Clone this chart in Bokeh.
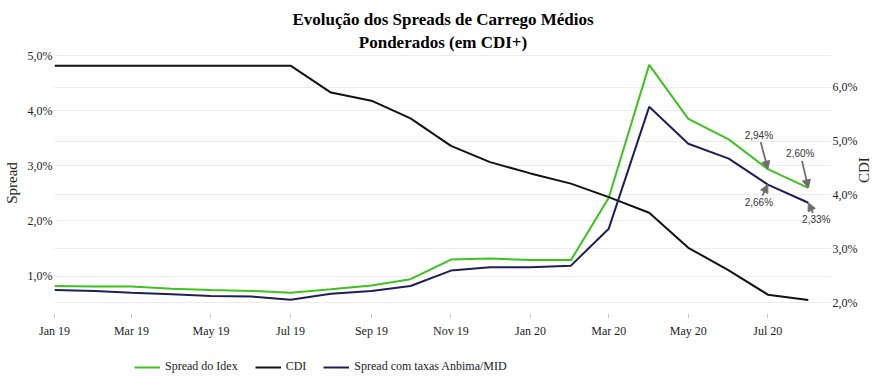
import math
import pandas as pd
from bokeh.plotting import figure
from bokeh.layouts import column
from bokeh.models import (Range1d, LinearAxis, FixedTicker, Grid, Legend, LegendItem,
                          Title, Arrow, NormalHead, DatetimeTickFormatter, MonthsTicker,
                          ColumnDataSource)
from bokeh.core.properties import value
from bokeh.embed import file_html
from bokeh.resources import INLINE

# ---------------- data ----------------
months = ["2019-01-01", "2019-02-01", "2019-03-01", "2019-04-01", "2019-05-01",
          "2019-06-01", "2019-07-01", "2019-08-01", "2019-09-01", "2019-10-01",
          "2019-11-01", "2019-12-01", "2020-01-01", "2020-02-01", "2020-03-01",
          "2020-04-01", "2020-05-01", "2020-06-01", "2020-07-01", "2020-08-01"]
spread_idex = [0.82, 0.81, 0.81, 0.77, 0.75, 0.73, 0.70, 0.76, 0.83, 0.945,
               1.30, 1.32, 1.29, 1.29, 2.42, 4.83, 3.85, 3.48, 2.94, 2.60]
cdi = [6.40, 6.40, 6.40, 6.40, 6.40, 6.40, 6.40, 5.90, 5.75, 5.42,
       4.91, 4.61, 4.40, 4.21, 3.96, 3.67, 3.02, 2.60, 2.15, 2.05]
spread_anbima = [0.75, 0.73, 0.70, 0.67, 0.64, 0.63, 0.57, 0.68, 0.73, 0.82,
                 1.10, 1.16, 1.16, 1.19, 1.86, 4.07, 3.40, 3.13, 2.66, 2.33]

series_names = ["Spread do Idex", "CDI", "Spread com taxas Anbima/MID"]

left_ticks = [1, 2, 3, 4, 5]
left_tick_labels = ["1,0%", "2,0%", "3,0%", "4,0%", "5,0%"]
right_ticks = [2, 3, 4, 5, 6]
right_tick_labels = ["2,0%", "3,0%", "4,0%", "5,0%", "6,0%"]

# annotations: series, month index, text, text offset in px (dx, dy; dy down)
ann_series = ["idex", "idex", "anbima", "anbima"]
ann_index = [18, 19, 18, 19]
ann_text = ["2,94%", "2,60%", "2,66%", "2,33%"]
ann_dx = [-9, -8, -9, 8]
ann_dy = [-34, -34, 18, 17]

# ---------------- style ----------------
GREEN = "#3cc31e"
NAVY = "#1e1e5c"
BLACK = "#111111"
GRID = "#ececec"
ARROW = "#6e6e6e"
SERIF = "Liberation Serif"
SANS = "Liberation Sans"
COLORS = [GREEN, BLACK, NAVY]

FRAME_W, FRAME_H = 780, 261
x0 = pd.Timestamp("2019-01-01")
x1 = x0 + pd.Timedelta(days=595.8)
y_left = (0.322, 5.055)
y_right = (1.80, 6.644)

dates = pd.to_datetime(months)
src = ColumnDataSource(dict(date=dates, idex=spread_idex, cdi=cdi, anbima=spread_anbima))

p = figure(width=883, height=340, x_axis_type="datetime",
           x_range=Range1d(x0, x1), y_range=Range1d(*y_left),
           output_backend="svg", toolbar_location=None, title_location=None,
           min_border_left=52, min_border_right=51, min_border_top=52,
           min_border_bottom=27)
p.frame_align = False
p.outline_line_color = None
p.background_fill_color = "white"
p.border_fill_color = "white"
p.extra_y_ranges = {"cdi": Range1d(*y_right)}

# titles (line 2 added first -> closest to plot)
for txt in ["Ponderados (em CDI+)", "Evolução dos Spreads de Carrego Médios"]:
    p.add_layout(Title(text=txt, align="center", text_font=SERIF, text_font_size="17px",
                       text_font_style="bold", text_color="#000000", standoff=2), "above")

# x axis
xa = p.xaxis[0]
xa.ticker = MonthsTicker(months=[0, 2, 4, 6, 8, 10])
xa.formatter = DatetimeTickFormatter(months="%b %y", years="%b %y", days="%b %y")
xa.axis_line_color = None
xa.major_tick_line_color = "#cccccc"
xa.major_tick_out = 5
xa.major_tick_in = 0
xa.minor_tick_line_color = None
xa.major_label_standoff = 5
xa.major_label_text_font = SERIF
xa.major_label_text_font_size = "12px"
xa.major_label_text_color = "#222222"

# left axis
ya = p.yaxis[0]
ya.ticker = FixedTicker(ticks=left_ticks)
ya.major_label_overrides = dict(zip(left_ticks, left_tick_labels))
ya.axis_label = "Spread"
ya.axis_line_color = None
ya.major_tick_line_color = None
ya.major_tick_out = 0
ya.major_tick_in = 0
ya.minor_tick_line_color = None
ya.minor_tick_out = 0
ya.major_label_standoff = 2
ya.axis_label_standoff = 5
ya.major_label_text_font = SERIF
ya.major_label_text_font_size = "12px"
ya.major_label_text_color = "#222222"
ya.axis_label_text_font = SERIF
ya.axis_label_text_font_size = "15px"
ya.axis_label_text_font_style = "normal"
ya.axis_label_text_color = "#222222"

# right axis
ra = LinearAxis(y_range_name="cdi", ticker=FixedTicker(ticks=right_ticks),
                axis_label="CDI", axis_label_orientation=math.pi / 2)
ra.major_label_overrides = dict(zip(right_ticks, right_tick_labels))
ra.axis_line_color = None
ra.major_tick_line_color = None
ra.major_tick_out = 0
ra.major_tick_in = 0
ra.minor_tick_line_color = None
ra.minor_tick_out = 0
ra.major_label_standoff = 1
ra.axis_label_standoff = 4
ra.major_label_text_font = SERIF
ra.major_label_text_font_size = "12px"
ra.major_label_text_color = "#222222"
ra.axis_label_text_font = SERIF
ra.axis_label_text_font_size = "15px"
ra.axis_label_text_font_style = "normal"
ra.axis_label_text_color = "#222222"
p.add_layout(ra, "right")

# grids
p.xgrid.visible = False
p.ygrid.ticker = ya.ticker
p.ygrid.grid_line_color = GRID
p.add_layout(Grid(dimension=1, ticker=ra.ticker, y_range_name="cdi",
                  grid_line_color=GRID))

# lines
r_idex = p.line("date", "idex", source=src, line_color=GREEN, line_width=2)
r_cdi = p.line("date", "cdi", source=src, line_color=BLACK, line_width=2, y_range_name="cdi")
r_anb = p.line("date", "anbima", source=src, line_color=NAVY, line_width=2)

# annotations
ms_per_px = (x1 - x0).total_seconds() * 1000.0 / FRAME_W
val_per_px = (y_left[1] - y_left[0]) / FRAME_H
series_map = {"idex": spread_idex, "anbima": spread_anbima}
ax, ay = [], []
for s, i, dx, dy in zip(ann_series, ann_index, ann_dx, ann_dy):
    xv = dates[i].value / 1e6
    yv = series_map[s][i]
    ax.append(dates[i])
    ay.append(yv)
    f = (abs(dy) - 7) / abs(dy)
    tx, ty = dx * f, dy * f
    p.add_layout(Arrow(end=NormalHead(size=8, fill_color=ARROW, line_color=ARROW, line_width=1),
                       x_start=xv + tx * ms_per_px, y_start=yv - ty * val_per_px,
                       x_end=xv, y_end=yv, line_color=ARROW, line_width=1.8))
ann_src = ColumnDataSource(dict(x=ax, y=ay, text=ann_text, xo=ann_dx, yo=ann_dy))
p.text("x", "y", text="text", x_offset="xo", y_offset="yo", source=ann_src,
       text_font=value(SANS), text_font_size="10px", text_color="#333333",
       text_align="center", text_baseline="middle")

# ---------------- legend strip ----------------
lf = figure(width=883, height=47, x_range=Range1d(0, 1), y_range=Range1d(0, 1),
            output_backend="svg", toolbar_location=None, title_location=None,
            x_axis_location=None, y_axis_location=None, min_border=0)
lf.frame_align = False
lf.outline_line_color = None
lf.grid.visible = False
# off-screen stand-in renderers carrying the legend line styles
leg_r = [lf.line([-2, -1], [-2, -2], line_color=c, line_width=2) for c in COLORS]
legend = Legend(items=[LegendItem(label=n, renderers=[r]) for n, r in zip(series_names, leg_r)],
                location=(134, 13), orientation="horizontal", padding=0, margin=0,
                spacing=17, border_line_color=None, background_fill_alpha=0,
                glyph_width=26, glyph_height=14, label_standoff=5,
                label_text_font=SERIF, label_text_font_size="12px",
                label_text_color="#222222", label_height=14)
lf.add_layout(legend, "center")

open("out.html", "w").write(file_html(column(p, lf, spacing=0), INLINE))
